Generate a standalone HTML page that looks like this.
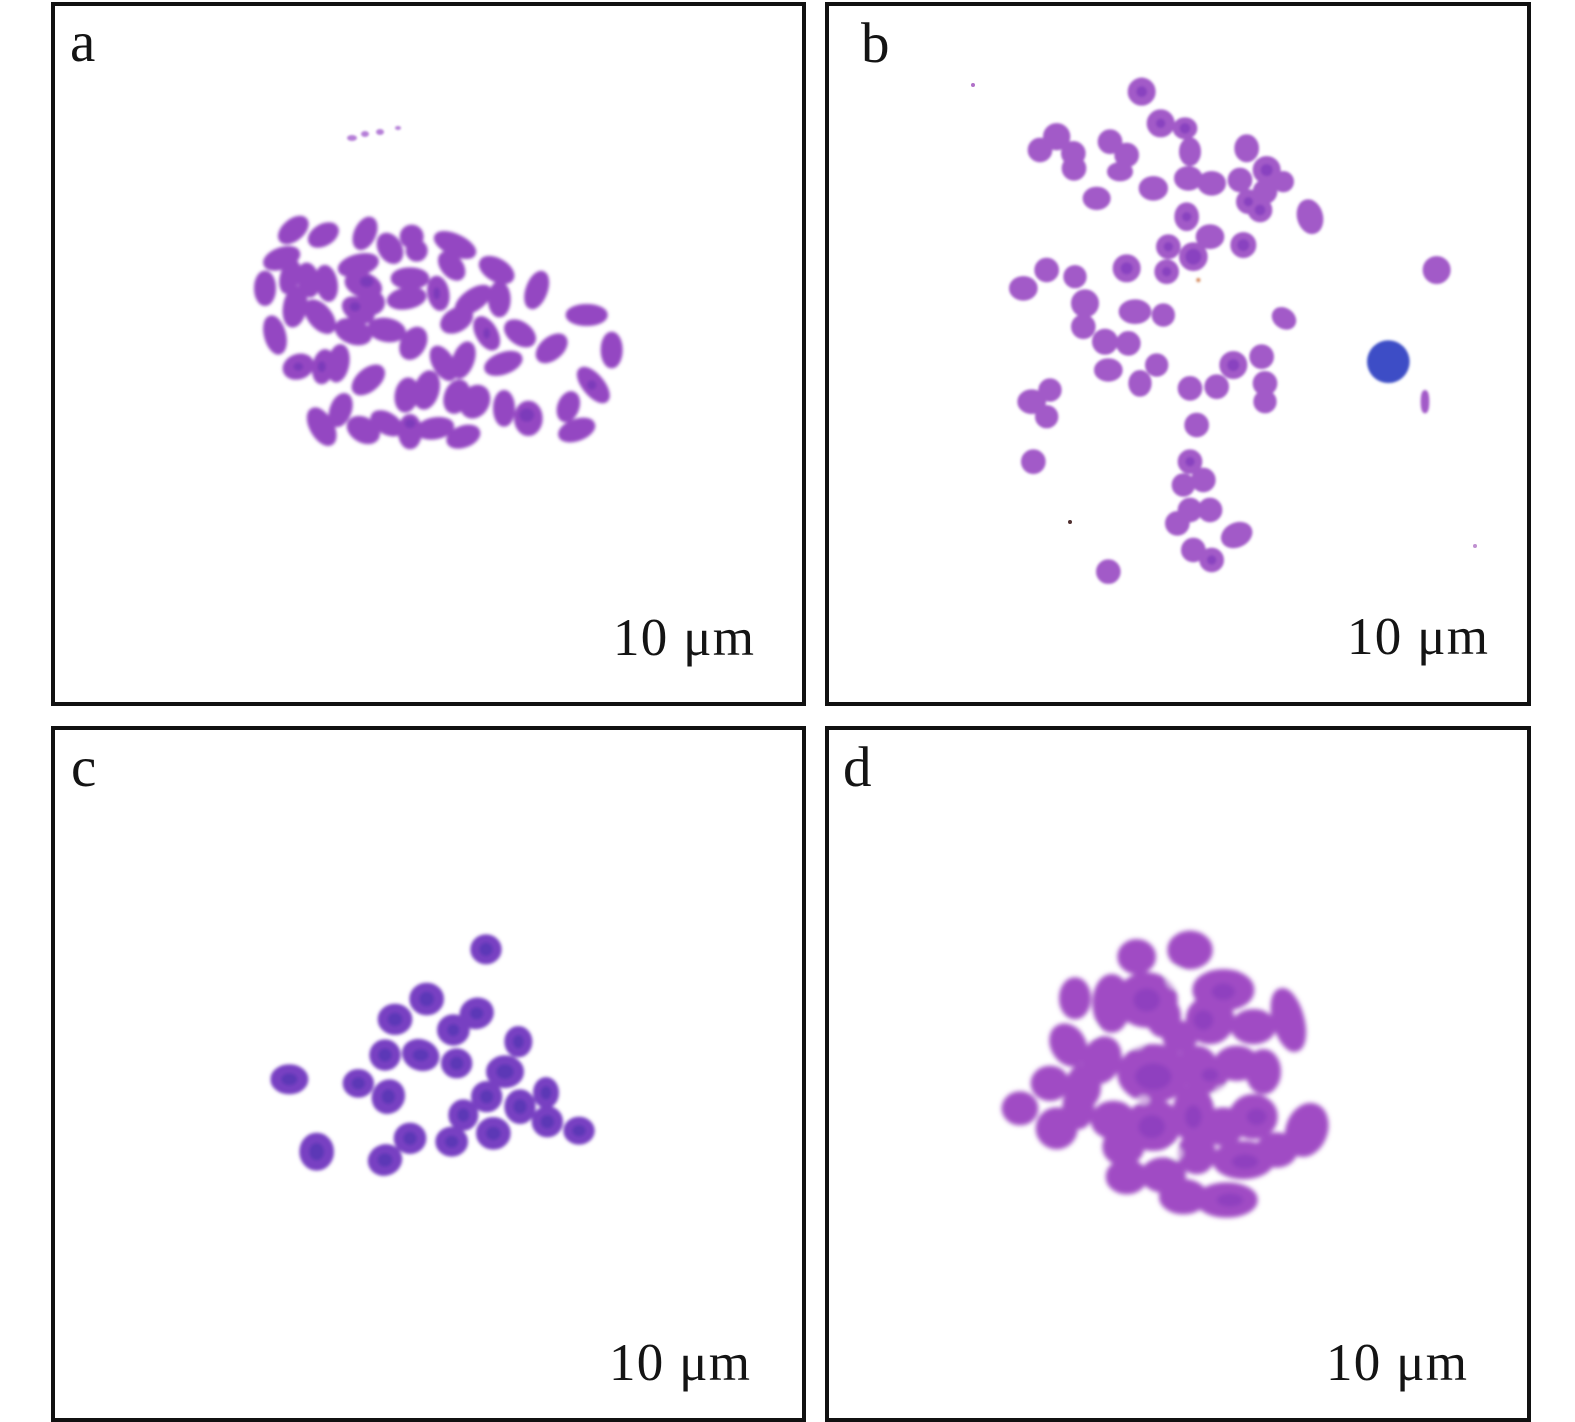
<!DOCTYPE html>
<html>
<head>
<meta charset="utf-8">
<style>
html,body{margin:0;padding:0;background:#fff;}
svg{display:block;}
text{font-family:"Liberation Serif",serif;fill:#141414;}
</style>
</head>
<body>
<svg width="1575" height="1422" viewBox="0 0 1575 1422" xmlns="http://www.w3.org/2000/svg">
<defs>
<filter id="fa" x="-20%" y="-20%" width="140%" height="140%"><feGaussianBlur stdDeviation="4.5"/></filter>
<filter id="fb" x="-20%" y="-20%" width="140%" height="140%"><feGaussianBlur stdDeviation="4"/></filter>
<filter id="fc" x="-20%" y="-20%" width="140%" height="140%"><feGaussianBlur stdDeviation="4.5"/></filter>
<filter id="fd" x="-20%" y="-20%" width="140%" height="140%"><feGaussianBlur stdDeviation="7.5"/></filter>
<filter id="fs" x="-50%" y="-50%" width="200%" height="200%"><feGaussianBlur stdDeviation="1"/></filter>
</defs>
<rect width="1575" height="1422" fill="#fff"/>

<!-- Panel a chromosomes -->
<g transform="translate(250 210) scale(0.33333)" filter="url(#fa)">
<g fill="#9446c2" stroke="#9446c2" stroke-width="16">
<ellipse cx="130" cy="60" rx="45" ry="25" transform="rotate(-40 130 60)"/>
<ellipse cx="220" cy="75" rx="42" ry="25" transform="rotate(-30 220 75)"/>
<ellipse cx="345" cy="70" rx="45" ry="25" transform="rotate(-65 345 70)"/>
<ellipse cx="420" cy="115" rx="42" ry="28" transform="rotate(60 420 115)"/>
<ellipse cx="485" cy="80" rx="28" ry="28"/>
<ellipse cx="500" cy="122" rx="25" ry="25"/>
<ellipse cx="615" cy="105" rx="60" ry="25" transform="rotate(25 615 105)"/>
<ellipse cx="740" cy="180" rx="50" ry="27" transform="rotate(30 740 180)"/>
<ellipse cx="860" cy="240" rx="52" ry="25" transform="rotate(-70 860 240)"/>
<ellipse cx="95" cy="145" rx="50" ry="25" transform="rotate(-20 95 145)"/>
<ellipse cx="45" cy="235" rx="25" ry="45"/>
<ellipse cx="120" cy="200" rx="22" ry="45" transform="rotate(15 120 200)"/>
<ellipse cx="175" cy="210" rx="25" ry="45" transform="rotate(-10 175 210)"/>
<ellipse cx="230" cy="220" rx="25" ry="48" transform="rotate(-10 230 220)"/>
<ellipse cx="135" cy="290" rx="28" ry="55" transform="rotate(10 135 290)"/>
<ellipse cx="75" cy="375" rx="25" ry="52" transform="rotate(-15 75 375)"/>
<ellipse cx="210" cy="320" rx="28" ry="52" transform="rotate(-40 210 320)"/>
<ellipse cx="325" cy="165" rx="55" ry="25" transform="rotate(-15 325 165)"/>
<ellipse cx="340" cy="225" rx="50" ry="30" transform="rotate(20 340 225)"/>
<ellipse cx="362" cy="278" rx="35" ry="30"/>
<ellipse cx="325" cy="300" rx="45" ry="28" transform="rotate(30 325 300)"/>
<ellipse cx="480" cy="205" rx="50" ry="25"/>
<ellipse cx="470" cy="265" rx="52" ry="25" transform="rotate(-10 470 265)"/>
<ellipse cx="565" cy="250" rx="25" ry="45" transform="rotate(-10 565 250)"/>
<ellipse cx="605" cy="168" rx="25" ry="42" transform="rotate(-40 605 168)"/>
<ellipse cx="670" cy="270" rx="55" ry="25" transform="rotate(-35 670 270)"/>
<ellipse cx="748" cy="268" rx="26" ry="46"/>
<ellipse cx="620" cy="330" rx="45" ry="28" transform="rotate(-30 620 330)"/>
<ellipse cx="310" cy="365" rx="50" ry="30" transform="rotate(20 310 365)"/>
<ellipse cx="410" cy="360" rx="50" ry="28" transform="rotate(10 410 360)"/>
<ellipse cx="490" cy="400" rx="30" ry="45" transform="rotate(30 490 400)"/>
<ellipse cx="710" cy="370" rx="25" ry="48" transform="rotate(-30 710 370)"/>
<ellipse cx="810" cy="370" rx="45" ry="27" transform="rotate(35 810 370)"/>
<ellipse cx="905" cy="415" rx="47" ry="27" transform="rotate(-40 905 415)"/>
<ellipse cx="1010" cy="315" rx="55" ry="25"/>
<ellipse cx="1085" cy="420" rx="25" ry="47"/>
<ellipse cx="1030" cy="525" rx="25" ry="57" transform="rotate(-40 1030 525)"/>
<ellipse cx="955" cy="590" rx="25" ry="40" transform="rotate(20 955 590)"/>
<ellipse cx="980" cy="660" rx="50" ry="25" transform="rotate(-20 980 660)"/>
<ellipse cx="145" cy="470" rx="40" ry="30" transform="rotate(-20 145 470)"/>
<ellipse cx="220" cy="470" rx="25" ry="45" transform="rotate(10 220 470)"/>
<ellipse cx="265" cy="460" rx="25" ry="50" transform="rotate(10 265 460)"/>
<ellipse cx="355" cy="510" rx="50" ry="27" transform="rotate(-40 355 510)"/>
<ellipse cx="215" cy="650" rx="28" ry="55" transform="rotate(-30 215 650)"/>
<ellipse cx="272" cy="600" rx="25" ry="45" transform="rotate(20 272 600)"/>
<ellipse cx="340" cy="660" rx="45" ry="30" transform="rotate(30 340 660)"/>
<ellipse cx="410" cy="640" rx="45" ry="25" transform="rotate(30 410 640)"/>
<ellipse cx="470" cy="555" rx="28" ry="45" transform="rotate(10 470 555)"/>
<ellipse cx="530" cy="540" rx="30" ry="52" transform="rotate(15 530 540)"/>
<ellipse cx="480" cy="665" rx="28" ry="45"/>
<ellipse cx="555" cy="655" rx="50" ry="25" transform="rotate(-10 555 655)"/>
<ellipse cx="580" cy="460" rx="25" ry="50" transform="rotate(-30 580 460)"/>
<ellipse cx="640" cy="450" rx="25" ry="50" transform="rotate(20 640 450)"/>
<ellipse cx="620" cy="560" rx="30" ry="45" transform="rotate(20 620 560)"/>
<ellipse cx="675" cy="575" rx="35" ry="45" transform="rotate(30 675 575)"/>
<ellipse cx="760" cy="460" rx="52" ry="25" transform="rotate(-20 760 460)"/>
<ellipse cx="762" cy="595" rx="25" ry="47"/>
<ellipse cx="835" cy="625" rx="35" ry="45"/>
<ellipse cx="640" cy="680" rx="45" ry="25" transform="rotate(-20 640 680)"/>
</g>
<g fill="#7438b8" opacity="0.8">
<ellipse cx="350" cy="215" rx="20" ry="16"/>
<ellipse cx="315" cy="290" rx="16" ry="14"/>
<ellipse cx="830" cy="615" rx="22" ry="20"/>
<ellipse cx="1025" cy="525" rx="14" ry="14"/>
<ellipse cx="480" cy="640" rx="16" ry="14"/>
<ellipse cx="145" cy="470" rx="14" ry="12"/>
<ellipse cx="215" cy="470" rx="12" ry="16"/>
<ellipse cx="560" cy="250" rx="10" ry="18"/>
<ellipse cx="710" cy="370" rx="10" ry="16"/>
</g>
</g>
<g fill="#a868d0" filter="url(#fs)" opacity="0.85">
<ellipse cx="352" cy="138" rx="5" ry="3"/>
<ellipse cx="365" cy="134" rx="4" ry="3"/>
<ellipse cx="380" cy="132" rx="4" ry="3"/>
<ellipse cx="398" cy="128" rx="3" ry="2"/>
</g>

<!-- Panel b chromosomes -->
<g transform="translate(990 70) scale(0.33333)" filter="url(#fb)">
<g fill="#a25ac8" stroke="#a25ac8" stroke-width="14">
<circle cx="455" cy="65" r="35"/>
<circle cx="512" cy="160" r="35"/>
<ellipse cx="585" cy="175" rx="30" ry="26"/>
<circle cx="200" cy="200" r="34"/>
<circle cx="150" cy="240" r="30"/>
<circle cx="250" cy="250" r="30"/>
<circle cx="252" cy="295" r="30"/>
<circle cx="360" cy="215" r="30"/>
<circle cx="410" cy="255" r="30"/>
<ellipse cx="390" cy="305" rx="32" ry="22"/>
<ellipse cx="320" cy="385" rx="35" ry="28"/>
<ellipse cx="490" cy="355" rx="37" ry="30"/>
<ellipse cx="600" cy="245" rx="26" ry="36"/>
<ellipse cx="595" cy="325" rx="36" ry="30"/>
<ellipse cx="665" cy="340" rx="36" ry="30"/>
<ellipse cx="770" cy="235" rx="30" ry="35"/>
<circle cx="750" cy="330" r="30"/>
<circle cx="830" cy="300" r="35"/>
<circle cx="880" cy="335" r="25"/>
<circle cx="825" cy="365" r="30"/>
<circle cx="775" cy="395" r="30"/>
<circle cx="810" cy="420" r="30"/>
<ellipse cx="960" cy="440" rx="32" ry="46" transform="rotate(-15 960 440)"/>
<ellipse cx="590" cy="440" rx="30" ry="36"/>
<ellipse cx="660" cy="500" rx="36" ry="30"/>
<circle cx="535" cy="530" r="30"/>
<circle cx="610" cy="560" r="36"/>
<circle cx="760" cy="525" r="32"/>
<circle cx="530" cy="605" r="30"/>
<circle cx="410" cy="595" r="35"/>
<ellipse cx="100" cy="655" rx="36" ry="30"/>
<circle cx="170" cy="600" r="30"/>
<circle cx="255" cy="620" r="28"/>
<circle cx="285" cy="700" r="35"/>
<circle cx="280" cy="770" r="30"/>
<ellipse cx="435" cy="725" rx="42" ry="30"/>
<circle cx="520" cy="735" r="28"/>
<circle cx="345" cy="815" r="32"/>
<circle cx="415" cy="820" r="30"/>
<ellipse cx="355" cy="900" rx="36" ry="28"/>
<ellipse cx="450" cy="940" rx="28" ry="33"/>
<circle cx="500" cy="885" r="28"/>
<circle cx="600" cy="955" r="30"/>
<circle cx="680" cy="950" r="30"/>
<circle cx="730" cy="885" r="35"/>
<circle cx="815" cy="860" r="30"/>
<circle cx="825" cy="940" r="30"/>
<circle cx="825" cy="995" r="28"/>
<ellipse cx="882" cy="745" rx="32" ry="24" transform="rotate(35 882 745)"/>
<ellipse cx="125" cy="995" rx="36" ry="30"/>
<circle cx="180" cy="960" r="28"/>
<circle cx="170" cy="1040" r="28"/>
<circle cx="620" cy="1065" r="30"/>
<circle cx="130" cy="1175" r="30"/>
<circle cx="600" cy="1175" r="30"/>
<circle cx="580" cy="1245" r="28"/>
<circle cx="640" cy="1230" r="30"/>
<circle cx="600" cy="1320" r="30"/>
<circle cx="660" cy="1320" r="30"/>
<circle cx="562" cy="1360" r="30"/>
<ellipse cx="740" cy="1395" rx="42" ry="30" transform="rotate(-25 740 1395)"/>
<circle cx="610" cy="1440" r="30"/>
<circle cx="665" cy="1470" r="30"/>
<circle cx="355" cy="1505" r="30"/>
<circle cx="1340" cy="600" r="35"/>
<ellipse cx="1305" cy="995" rx="6" ry="28"/>
</g>
<g fill="#8540bf" opacity="0.85">
<circle cx="455" cy="65" r="16"/>
<circle cx="585" cy="175" r="16"/>
<circle cx="610" cy="560" r="24"/>
<circle cx="760" cy="525" r="18"/>
<circle cx="410" cy="595" r="18"/>
<circle cx="830" cy="300" r="18"/>
<circle cx="810" cy="420" r="16"/>
<circle cx="730" cy="885" r="18"/>
<circle cx="535" cy="530" r="14"/>
<circle cx="530" cy="605" r="14"/>
<circle cx="600" cy="1175" r="14"/>
<circle cx="665" cy="1470" r="14"/>
<circle cx="512" cy="160" r="14"/>
<circle cx="775" cy="395" r="14"/>
<circle cx="590" cy="440" r="14"/>
</g>
<circle cx="1195" cy="875" r="64" fill="#3c4ec6"/>
<circle cx="625" cy="630" r="6" fill="#d08050"/>
</g>
<circle cx="973" cy="85" r="2" fill="#b070c8"/>
<circle cx="1070" cy="522" r="2" fill="#503030"/>
<circle cx="1475" cy="546" r="2" fill="#c090d0"/>

<!-- Panel c chromosomes -->
<g transform="translate(260 920) scale(0.33333)" filter="url(#fc)">
<g fill="#7840c2" stroke="#7840c2" stroke-width="14">
<ellipse cx="678" cy="88" rx="40" ry="38"/>
<ellipse cx="500" cy="237" rx="45" ry="42"/>
<ellipse cx="405" cy="298" rx="45" ry="40"/>
<ellipse cx="650" cy="280" rx="45" ry="40" transform="rotate(-20 650 280)"/>
<ellipse cx="580" cy="330" rx="42" ry="40"/>
<ellipse cx="375" cy="405" rx="40" ry="40"/>
<ellipse cx="482" cy="405" rx="50" ry="40" transform="rotate(20 482 405)"/>
<ellipse cx="590" cy="430" rx="40" ry="38"/>
<ellipse cx="775" cy="365" rx="35" ry="40"/>
<ellipse cx="735" cy="455" rx="50" ry="42"/>
<ellipse cx="88" cy="478" rx="50" ry="38"/>
<ellipse cx="295" cy="490" rx="40" ry="36"/>
<ellipse cx="385" cy="530" rx="42" ry="46" transform="rotate(30 385 530)"/>
<ellipse cx="680" cy="530" rx="40" ry="40"/>
<ellipse cx="610" cy="585" rx="38" ry="40"/>
<ellipse cx="780" cy="560" rx="40" ry="45"/>
<ellipse cx="858" cy="518" rx="32" ry="40"/>
<ellipse cx="862" cy="605" rx="40" ry="40"/>
<ellipse cx="957" cy="632" rx="40" ry="35"/>
<ellipse cx="700" cy="640" rx="45" ry="42"/>
<ellipse cx="575" cy="665" rx="42" ry="38"/>
<ellipse cx="450" cy="655" rx="42" ry="40"/>
<ellipse cx="170" cy="695" rx="45" ry="50"/>
<ellipse cx="375" cy="720" rx="45" ry="40" transform="rotate(-20 375 720)"/>
</g>
<g fill="#5538b4" opacity="0.8">
<ellipse cx="678" cy="88" rx="20" ry="20"/>
<ellipse cx="500" cy="237" rx="22" ry="22"/>
<ellipse cx="405" cy="298" rx="22" ry="20"/>
<ellipse cx="650" cy="280" rx="20" ry="18"/>
<ellipse cx="580" cy="330" rx="18" ry="18"/>
<ellipse cx="375" cy="405" rx="20" ry="20"/>
<ellipse cx="482" cy="405" rx="24" ry="18"/>
<ellipse cx="590" cy="430" rx="20" ry="20"/>
<ellipse cx="775" cy="365" rx="16" ry="20"/>
<ellipse cx="735" cy="455" rx="26" ry="22"/>
<ellipse cx="88" cy="478" rx="24" ry="18"/>
<ellipse cx="295" cy="490" rx="20" ry="18"/>
<ellipse cx="385" cy="530" rx="20" ry="22"/>
<ellipse cx="680" cy="530" rx="20" ry="20"/>
<ellipse cx="610" cy="585" rx="18" ry="20"/>
<ellipse cx="780" cy="560" rx="20" ry="22"/>
<ellipse cx="858" cy="518" rx="16" ry="20"/>
<ellipse cx="862" cy="605" rx="20" ry="20"/>
<ellipse cx="957" cy="632" rx="20" ry="17"/>
<ellipse cx="700" cy="640" rx="22" ry="20"/>
<ellipse cx="575" cy="665" rx="20" ry="18"/>
<ellipse cx="450" cy="655" rx="20" ry="20"/>
<ellipse cx="170" cy="695" rx="22" ry="26"/>
<ellipse cx="375" cy="720" rx="22" ry="20"/>
</g>
</g>

<!-- Panel d chromosomes -->
<g transform="translate(990 920) scale(0.33333)" filter="url(#fd)">
<g fill="#a04cc4" stroke="#a04cc4" stroke-width="26">
<ellipse cx="440" cy="110" rx="45" ry="40"/>
<ellipse cx="600" cy="90" rx="55" ry="45"/>
<ellipse cx="255" cy="235" rx="35" ry="50"/>
<ellipse cx="365" cy="250" rx="45" ry="75"/>
<ellipse cx="470" cy="240" rx="80" ry="70"/>
<ellipse cx="520" cy="290" rx="40" ry="50"/>
<ellipse cx="700" cy="210" rx="80" ry="50"/>
<ellipse cx="660" cy="300" rx="60" ry="60"/>
<ellipse cx="790" cy="320" rx="55" ry="40"/>
<ellipse cx="895" cy="300" rx="35" ry="85" transform="rotate(-15 895 300)"/>
<ellipse cx="570" cy="350" rx="40" ry="35"/>
<ellipse cx="235" cy="375" rx="40" ry="55" transform="rotate(-30 235 375)"/>
<ellipse cx="335" cy="420" rx="45" ry="60" transform="rotate(20 335 420)"/>
<ellipse cx="180" cy="490" rx="45" ry="40"/>
<ellipse cx="280" cy="500" rx="40" ry="55"/>
<ellipse cx="490" cy="460" rx="95" ry="75"/>
<ellipse cx="620" cy="440" rx="50" ry="50"/>
<ellipse cx="660" cy="470" rx="40" ry="35"/>
<ellipse cx="740" cy="430" rx="55" ry="40"/>
<ellipse cx="820" cy="455" rx="40" ry="55"/>
<ellipse cx="90" cy="565" rx="42" ry="38"/>
<ellipse cx="200" cy="625" rx="50" ry="50"/>
<ellipse cx="265" cy="560" rx="35" ry="55"/>
<ellipse cx="370" cy="600" rx="55" ry="45"/>
<ellipse cx="490" cy="615" rx="70" ry="65"/>
<ellipse cx="610" cy="580" rx="50" ry="75"/>
<ellipse cx="700" cy="620" rx="50" ry="45"/>
<ellipse cx="790" cy="590" rx="60" ry="55"/>
<ellipse cx="950" cy="630" rx="50" ry="70" transform="rotate(20 950 630)"/>
<ellipse cx="400" cy="680" rx="50" ry="45"/>
<ellipse cx="620" cy="700" rx="45" ry="50"/>
<ellipse cx="760" cy="720" rx="80" ry="45"/>
<ellipse cx="860" cy="690" rx="50" ry="40"/>
<ellipse cx="410" cy="770" rx="50" ry="40"/>
<ellipse cx="520" cy="765" rx="55" ry="40"/>
<ellipse cx="580" cy="830" rx="60" ry="40"/>
<ellipse cx="710" cy="840" rx="80" ry="40"/>
</g>
<g fill="#ffffff" opacity="0.55">
<ellipse cx="555" cy="175" rx="30" ry="35"/>
<ellipse cx="440" cy="370" rx="25" ry="20"/>
<ellipse cx="700" cy="520" rx="30" ry="25"/>
<ellipse cx="310" cy="330" rx="15" ry="20"/>
<ellipse cx="560" cy="700" rx="20" ry="20"/>
<ellipse cx="460" cy="540" rx="20" ry="15"/>
</g>
<g fill="#8a3ebe" opacity="0.75">
<ellipse cx="470" cy="240" rx="40" ry="35"/>
<ellipse cx="700" cy="215" rx="35" ry="25"/>
<ellipse cx="640" cy="300" rx="30" ry="30"/>
<ellipse cx="490" cy="470" rx="55" ry="40"/>
<ellipse cx="660" cy="465" rx="25" ry="20"/>
<ellipse cx="485" cy="620" rx="40" ry="35"/>
<ellipse cx="610" cy="590" rx="25" ry="35"/>
<ellipse cx="765" cy="725" rx="40" ry="22"/>
<ellipse cx="800" cy="590" rx="30" ry="25"/>
<ellipse cx="720" cy="840" rx="40" ry="20"/>
</g>
</g>

<!-- Panel borders -->
<g fill="none" stroke="#111" stroke-width="4">
<rect x="53" y="4" width="751" height="700"/>
<rect x="827" y="4" width="702" height="700"/>
<rect x="53" y="728" width="751" height="692"/>
<rect x="827" y="728" width="702" height="692"/>
</g>

<!-- Labels -->
<text x="70" y="61" font-size="57">a</text>
<text x="861" y="62" font-size="57">b</text>
<text x="71" y="786" font-size="57">c</text>
<text x="843" y="786" font-size="57">d</text>

<text x="613" y="655" font-size="53" textLength="141" lengthAdjust="spacing">10 μm</text>
<text x="1347" y="654" font-size="53" textLength="141" lengthAdjust="spacing">10 μm</text>
<text x="609" y="1380" font-size="53" textLength="141" lengthAdjust="spacing">10 μm</text>
<text x="1326" y="1380" font-size="53" textLength="141" lengthAdjust="spacing">10 μm</text>
</svg>
</body>
</html>
